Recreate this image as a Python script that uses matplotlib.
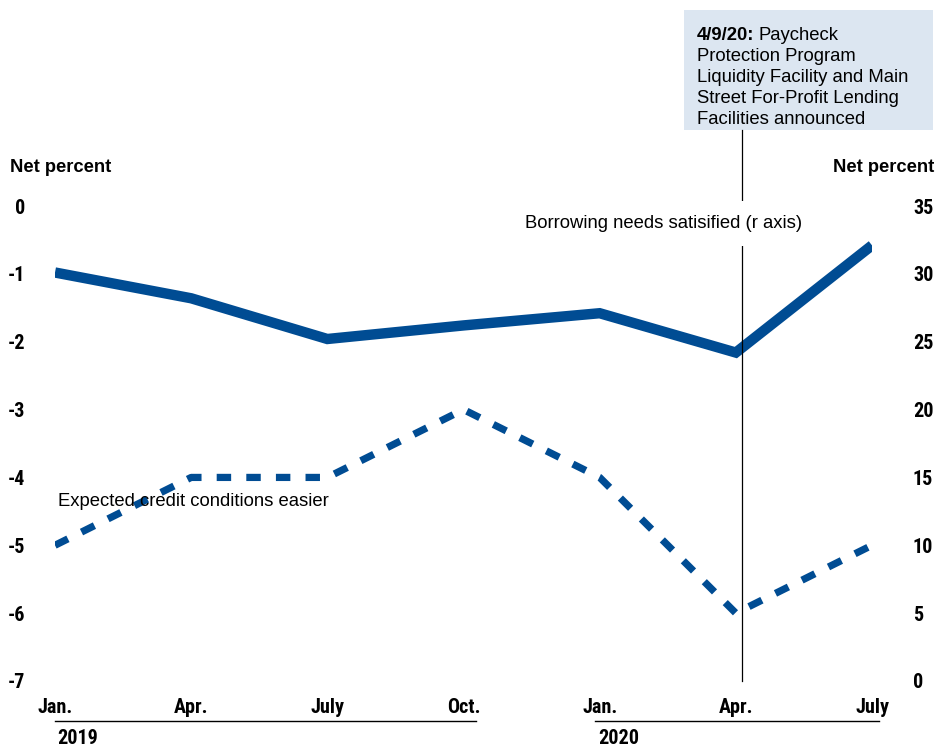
import matplotlib
matplotlib.use("Agg")
import matplotlib.pyplot as plt
from matplotlib.patches import Rectangle
import matplotlib.transforms as mtransforms
from matplotlib import font_manager

# ---- data ----
month_index = [0, 3, 6, 9, 12, 15, 18]
tick_labels = ["Jan.", "Apr.", "July", "Oct.", "Jan.", "Apr.", "July"]
credit_easier = [-5, -4, -4, -3, -4, -6, -5]              # left axis
borrowing_satisfied = [30.1, 28.2, 25.2, 26.2, 27.1, 24.2, 32.1]  # right axis
event_x = 15.13
years = ["2019", "2020"]
year_spans = [(0, 9.27), (11.9, 18.15)]
box_lines = ["Protection Program", "Liquidity Facility and Main",
             "Street For-Profit Lending", "Facilities announced"]

BLUE = "#004C93"
W, H = 938, 747

available = {f.name for f in font_manager.fontManager.ttflist}
narrow_name = None
for cand in ["Liberation Sans Narrow", "DejaVu Sans Condensed", "Roboto Condensed",
             "Open Sans Condensed"]:
    if cand in available:
        narrow_name = cand
        break
if narrow_name:
    narrow = [narrow_name, "DejaVu Sans"]
    tick_fs = 14.5
else:
    narrow = ["Liberation Sans", "DejaVu Sans"]
    tick_fs = 12
reg = ["Liberation Sans", "DejaVu Sans"]
TXT = 13.3

fig = plt.figure(figsize=(W / 100, H / 100), dpi=100)
ax = fig.add_axes([55 / W, (H - 681) / H, (872 - 55) / W, (681 - 206) / H])
ax2 = ax.twinx()

for a in (ax, ax2):
    for s in a.spines.values():
        s.set_visible(False)
    a.tick_params(length=0)
    a.patch.set_visible(False)

ax.set_xlim(0, 18)
ax.set_ylim(-7, 0)
ax2.set_ylim(0, 35)

ax.plot(month_index, credit_easier, color=BLUE, lw=5.2,
        linestyle=(0, (2.0, 2.1)), solid_capstyle="butt", dash_capstyle="butt")
ax2.plot(month_index, borrowing_satisfied, color=BLUE, lw=7.5,
         solid_joinstyle="miter", solid_capstyle="butt", zorder=2)

ax.set_xticks(month_index)
ax.set_xticklabels(tick_labels, family=narrow, fontweight="bold", fontsize=tick_fs)
ax.tick_params(axis="x", pad=12)
ax.set_yticks(range(-7, 1))
ax.set_yticklabels([str(v) for v in range(-7, 1)], family=narrow,
                   fontweight="bold", fontsize=tick_fs)
ax.tick_params(axis="y", pad=21.5)
ax2.set_yticks(range(0, 36, 5))
ax2.set_yticklabels([str(v) for v in range(0, 36, 5)], family=narrow,
                    fontweight="bold", fontsize=tick_fs)
ax2.tick_params(axis="y", pad=29.5)

# axis titles
fig.text(10 / W, 1 - 167 / H, "Net percent", family=reg, fontweight="bold",
         fontsize=13.2, ha="left", va="center")
fig.text(934 / W, 1 - 167 / H, "Net percent", family=reg, fontweight="bold",
         fontsize=13.2, ha="right", va="center")

# year brackets
trans = mtransforms.blended_transform_factory(ax.transData, ax.transAxes)
for yr, (x0, x1) in zip(years, year_spans):
    ax.plot([x0, x1], [-0.084, -0.084], transform=trans, color="black",
            lw=1.0, clip_on=False)
    ax.text(x0 + 0.06, -0.122, yr, transform=trans, family=narrow,
            fontweight="bold", fontsize=tick_fs, ha="left", va="center")

# series labels
ax.text(0.07, -4.36, "Expected credit conditions easier", family=reg,
        fontsize=TXT, ha="left", va="center", zorder=5)
ax2.text(13.41, 33.7, "Borrowing needs satisified (r axis)", family=reg,
         fontsize=TXT, ha="center", va="center", zorder=5,
         bbox=dict(facecolor="white", edgecolor="none", pad=10))

# event line
ax2.axvline(event_x, ymin=0, ymax=(681 - 130) / 475, color="black", lw=0.9,
            clip_on=False, zorder=3)

# annotation box
fig.add_artist(Rectangle((684 / W, (H - 130) / H), 249 / W, 120 / H,
                         transform=fig.transFigure, facecolor="#DCE6F1",
                         edgecolor="none", zorder=0))
tx = 697 / W
t1 = fig.text(tx, 1 - 40 / H, "4/9/20:", family=reg, fontweight="bold",
              fontsize=TXT, ha="left", va="baseline")
fig.canvas.draw()
bb = t1.get_window_extent(renderer=fig.canvas.get_renderer())
fig.text(bb.x1 / W + 4 / W, 1 - 40 / H, "Paycheck", family=reg,
         fontsize=TXT, ha="left", va="baseline")
for i, line in enumerate(box_lines):
    fig.text(tx, 1 - (61 + 21 * i) / H, line, family=reg, fontsize=TXT,
             ha="left", va="baseline")

fig.savefig("out.png", dpi=100)
